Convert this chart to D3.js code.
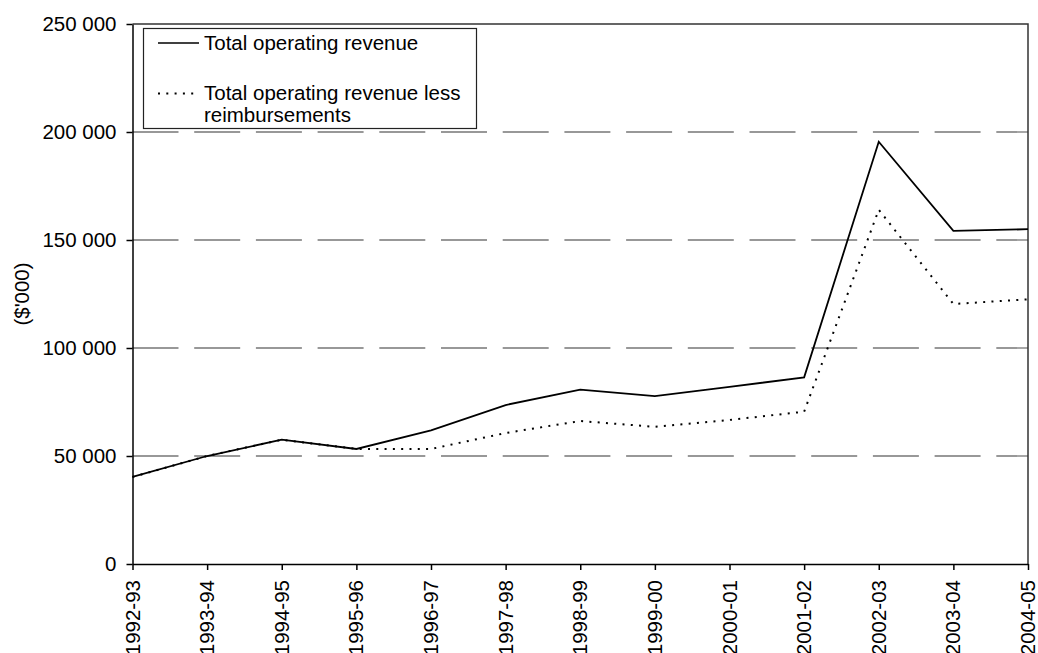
<!DOCTYPE html>
<meta charset="utf-8">
<style>

body {
  margin: 0;
  background: #fff;
}

text {
  font-family: "Liberation Sans", Arial, sans-serif;
  font-size: 20.5px;
  fill: #000;
}

.grid line {
  stroke: #777;
  stroke-width: 1.3px;
  stroke-dasharray: 46, 15.7;
}

.line {
  fill: none;
  stroke: #000;
}

</style>
<svg></svg>
<script src="https://cdn.jsdelivr.net/npm/d3@7"></script>
<script>

var years = ["1992-93", "1993-94", "1994-95", "1995-96", "1996-97", "1997-98", "1998-99",
    "1999-00", "2000-01", "2001-02", "2002-03", "2003-04", "2004-05"];

var totalRevenue = [40300, 50000, 57550, 53250, 61900, 73600, 80700,
    77700, 82000, 86400, 195500, 154200, 155000];

var revenueLessReimb = [40300, 50000, 57550, 53250, 53250, 60650, 66200,
    63500, 66700, 70500, 164000, 120400, 122500];

var yTicks = [0, 50000, 100000, 150000, 200000, 250000];

var width = 1038,
    height = 653;

var svg = d3.select("svg")
    .attr("width", width)
    .attr("height", height);

var x = d3.scalePoint()
    .domain(years)
    .range([132.5, 1028]);

var y = d3.scaleLinear()
    .domain([0, 250000])
    .range([564, 24]);

function fmt(d) {
  return d3.format(",")(d).replace(/,/g, " ");
}

// dashed gridlines
svg.append("g")
    .attr("class", "grid")
  .selectAll("line")
  .data(yTicks.filter(function(d) { return d > 0 && d < 250000; }))
  .enter().append("line")
    .attr("x1", x.range()[0])
    .attr("x2", x.range()[1])
    .attr("y1", function(d) { return y(d); })
    .attr("y2", function(d) { return y(d); });

// top and right frame
svg.append("path")
    .attr("d", "M" + x.range()[0] + "," + y(250000) + "H" + x.range()[1] + "V" + y(0))
    .attr("fill", "none")
    .attr("stroke", "#333")
    .attr("stroke-width", 1.5);

var line = d3.line()
    .x(function(d, i) { return x(years[i]); })
    .y(function(d) { return y(d); });

svg.append("path")
    .datum(revenueLessReimb)
    .attr("class", "line")
    .attr("stroke-width", 2)
    .attr("stroke-dasharray", "2,6.3")
    .attr("d", line);

svg.append("path")
    .datum(totalRevenue)
    .attr("class", "line")
    .attr("stroke-width", 1.8)
    .attr("d", line);

// axes
var yAxis = svg.append("g")
    .attr("transform", "translate(" + x.range()[0] + ",0)")
    .call(d3.axisLeft(y).tickValues(yTicks).tickFormat(fmt).tickSize(6).tickSizeOuter(0).tickPadding(10));

var xAxis = svg.append("g")
    .attr("transform", "translate(0," + y(0) + ")")
    .call(d3.axisBottom(x).tickSize(6).tickSizeOuter(0));

xAxis.selectAll("text")
    .attr("x", -16)
    .attr("y", 6.5)
    .attr("dy", 0)
    .attr("text-anchor", "end")
    .attr("transform", "rotate(-90)");

svg.selectAll(".domain, .tick line")
    .attr("stroke", "#000")
    .attr("stroke-width", 1.5);

svg.selectAll(".tick text")
    .attr("font-family", null)
    .attr("font-size", null);

svg.append("text")
    .attr("transform", "translate(29,294) rotate(-90)")
    .attr("text-anchor", "middle")
    .text("($'000)");

// legend
var legend = svg.append("g");

legend.append("rect")
    .attr("x", 143.5)
    .attr("y", 28.5)
    .attr("width", 333)
    .attr("height", 100)
    .attr("fill", "#fff")
    .attr("stroke", "#222")
    .attr("stroke-width", 1.2);

legend.append("line")
    .attr("x1", 158).attr("x2", 199)
    .attr("y1", 43).attr("y2", 43)
    .attr("stroke", "#000")
    .attr("stroke-width", 1.5);

legend.append("line")
    .attr("x1", 158).attr("x2", 199)
    .attr("y1", 93.5).attr("y2", 93.5)
    .attr("stroke", "#000")
    .attr("stroke-width", 2)
    .attr("stroke-dasharray", "2,6.3");

legend.append("text")
    .attr("x", 204)
    .attr("y", 49.5)
    .text("Total operating revenue");

legend.append("text")
    .attr("x", 204)
    .attr("y", 100)
    .text("Total operating revenue less");

legend.append("text")
    .attr("x", 204)
    .attr("y", 121.5)
    .text("reimbursements");

</script>
